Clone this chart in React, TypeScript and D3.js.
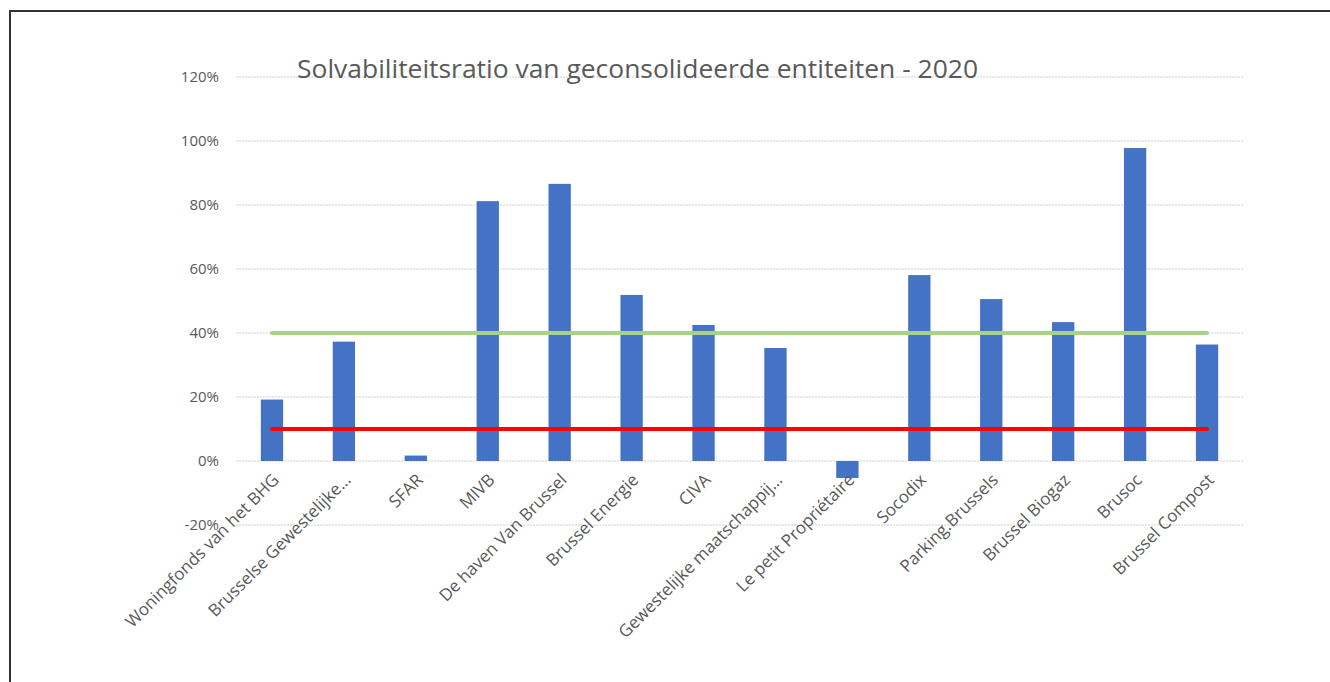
import { useEffect, useRef } from 'react';
import * as d3 from 'd3';

const categories = [
  'Woningfonds van het BHG',
  'Brusselse Gewestelijke…',
  'SFAR',
  'MIVB',
  'De haven Van Brussel',
  'Brussel Energie',
  'CIVA',
  'Gewestelijke maatschappij…',
  'Le petit Propriétaire',
  'Socodix',
  'Parking.Brussels',
  'Brussel Biogaz',
  'Brusoc',
  'Brussel Compost',
];
const ratios = [19.2, 37.3, 1.7, 81.2, 86.6, 51.9, 42.5, 35.3, -5.3, 58.1, 50.6, 43.4, 97.8, 36.4];
const upperNorm = 40;
const lowerNorm = 10;
const yTicks = [-20, 0, 20, 40, 60, 80, 100, 120];
const title = 'Solvabiliteitsratio van geconsolideerde entiteiten  - 2020';

export default function App() {
  const svgRef = useRef<SVGSVGElement>(null);

  useEffect(() => {
    const width = 1330;
    const height = 682;
    const svg = d3.select(svgRef.current);
    svg.selectAll('*').remove();
    svg.attr('width', width).attr('height', height);

    const font = '"Open Sans", sans-serif';
    const grey = '#595959';

    // frame
    svg.append('rect')
      .attr('x', 10).attr('y', 11)
      .attr('width', width + 20).attr('height', height + 20)
      .attr('fill', '#fff').attr('stroke', '#333').attr('stroke-width', 2);

    const x = d3.scaleBand<string>()
      .domain(categories)
      .range([236, 1243])
      .paddingInner(0.69)
      .paddingOuter(0.345);

    const y = d3.scaleLinear().domain([-20, 120]).range([525, 77]);

    // grid
    svg.append('g').selectAll('line')
      .data(yTicks)
      .join('line')
      .attr('x1', 236).attr('x2', 1243)
      .attr('y1', d => y(d)).attr('y2', d => y(d))
      .attr('stroke', '#d0d0d0')
      .attr('stroke-dasharray', '2,1');

    svg.append('g').selectAll('text')
      .data(yTicks)
      .join('text')
      .attr('x', 219).attr('y', d => y(d))
      .attr('dy', '0.35em')
      .attr('text-anchor', 'end')
      .attr('font-family', font).attr('font-size', 15)
      .attr('fill', grey)
      .text(d => `${d}%`);

    // bars
    svg.append('g').selectAll('rect')
      .data(ratios)
      .join('rect')
      .attr('x', (_, i) => x(categories[i])!)
      .attr('width', x.bandwidth())
      .attr('y', d => y(Math.max(0, d)))
      .attr('height', d => Math.abs(y(d) - y(0)))
      .attr('fill', '#4472c4');

    const cx = (c: string) => x(c)! + x.bandwidth() / 2;
    const first = cx(categories[0]);
    const last = cx(categories[categories.length - 1]);

    const lines: [number, string][] = [[upperNorm, '#a9d18e'], [lowerNorm, '#ff0000']];
    svg.append('g').selectAll('line')
      .data(lines)
      .join('line')
      .attr('x1', first).attr('x2', last)
      .attr('y1', d => y(d[0])).attr('y2', d => y(d[0]))
      .attr('stroke', d => d[1])
      .attr('stroke-width', 4)
      .attr('stroke-linecap', 'round');

    // x labels
    svg.append('g').selectAll('text')
      .data(categories)
      .join('text')
      .attr('transform', d => `translate(${cx(d) + 8},${481}) rotate(-45)`)
      .attr('text-anchor', 'end')
      .attr('font-family', font).attr('font-size', 17)
      .attr('fill', grey)
      .text(d => d);

    svg.append('text')
      .attr('x', 297).attr('y', 78)
      .attr('font-family', font).attr('font-size', 25)
      .attr('fill', grey)
      .attr('textLength', 681)
      .attr('lengthAdjust', 'spacingAndGlyphs')
      .text(title);
  }, []);

  return (
    <div style={{ position: 'absolute', left: 0, top: 0 }}>
      <svg ref={svgRef} style={{ display: 'block' }}></svg>
    </div>
  );
}
